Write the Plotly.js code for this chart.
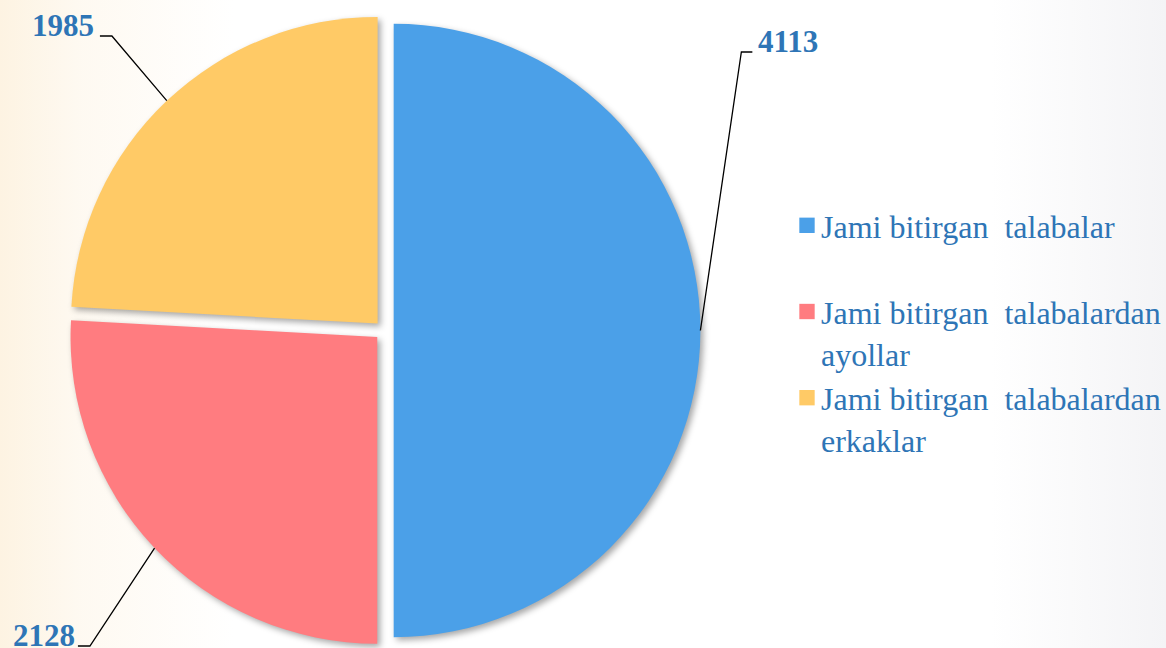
<!DOCTYPE html>
<html>
<head>
<meta charset="utf-8">
<script src="https://cdn.plot.ly/plotly-3.0.1.min.js"></script>
<style>
  html, body { margin: 0; padding: 0; }
  body {
    width: 1166px; height: 648px; overflow: hidden;
    background:
      linear-gradient(to right, rgba(253,243,226,1) 0%, rgba(254,248,238,0.8) 7%, rgba(255,255,255,0) 20%, rgba(255,255,255,0) 85%, rgba(244,244,246,1) 100%),
      #ffffff;
  }
  #chart { width: 1166px; height: 648px; }
  .pielayer .slice path.surface { filter: drop-shadow(3px 3px 3px rgba(0,0,0,0.35)); }
  .legend .legendpoints path.legendpie { transform: translate(26px, 0px) scale(1.28); }
</style>
</head>
<body>
<div id="chart"></div>
<script>
// ---- data ----
const labels = [
  'Jami bitirgan\u00a0 talabalar<br>\u00a0',
  'Jami bitirgan\u00a0 talabalardan<br>ayollar',
  'Jami bitirgan\u00a0 talabalardan<br>erkaklar'
];
const values = [4113, 2128, 1985];
const valueLabels = ['4113', '2128', '1985'];
const colors = ['#4BA0E8', '#FF7C80', '#FFCA66'];

// ---- layout constants (pixels) ----
const W = 1166, H = 648;
const pull = 0.031;
const pieCx = 384.5, pieCy = 330.5, pieHalf = 316.5;   // pie box centre & half size
const r = pieHalf / (1 + pull);
// label anchor + connector: [textX, textY, xanchor, elbowX, elbowY, endX, endY]
const labelPos = [
  [757, 42, 'left', 742, 52, 753, 52],
  [11, 635, 'left', 90, 646, 78, 646],
  [96, 26, 'right', 112, 36, 100, 36]
];

const px = x => x / W;
const py = y => 1 - y / H;

const total = values.reduce((a, b) => a + b, 0);
let cum = 0;
const annotations = [];
const shapes = [];
values.forEach((v, i) => {
  const mid = (cum + v / 2) / total * 2 * Math.PI; // clockwise from 12 o'clock
  cum += v;
  const ex = pieCx + r * (1 + pull) * Math.sin(mid);
  const ey = pieCy - r * (1 + pull) * Math.cos(mid);
  const p = labelPos[i];
  annotations.push({
    xref: 'paper', yref: 'paper', x: px(p[0]), y: py(p[1]),
    xanchor: p[2], yanchor: 'middle', showarrow: false,
    text: '<b>' + valueLabels[i] + '</b>',
    font: { family: 'Liberation Serif, Times New Roman, serif', size: 31, color: '#2E75B6' }
  });
  shapes.push({
    type: 'path', xref: 'paper', yref: 'paper',
    path: `M${px(ex)},${py(ey)} L${px(p[3])},${py(p[4])} L${px(p[5])},${py(p[6])}`,
    line: { color: '#000000', width: 1.3 }
  });
});

const trace = {
  type: 'pie',
  labels: labels,
  values: values,
  sort: false,
  direction: 'clockwise',
  rotation: 0,
  pull: pull,
  textinfo: 'none',
  hoverinfo: 'label+value',
  marker: { colors: colors, line: { width: 0 } },
  domain: { x: [px(pieCx - pieHalf), px(pieCx + pieHalf)], y: [py(pieCy + pieHalf), py(pieCy - pieHalf)] }
};

const layout = {
  width: W, height: H,
  margin: { l: 0, r: 0, t: 0, b: 0 },
  paper_bgcolor: 'rgba(0,0,0,0)',
  plot_bgcolor: 'rgba(0,0,0,0)',
  showlegend: true,
  legend: {
    x: px(782), y: py(198), xanchor: 'left', yanchor: 'top',
    valign: 'top',
    bgcolor: 'rgba(0,0,0,0)',
    font: { family: 'Liberation Serif, Times New Roman, serif', size: 32, color: '#2E75B6' },
    itemclick: false
  },
  annotations: annotations,
  shapes: shapes
};

Plotly.newPlot('chart', [trace], layout, { displayModeBar: false, staticPlot: true });
</script>
</body>
</html>
